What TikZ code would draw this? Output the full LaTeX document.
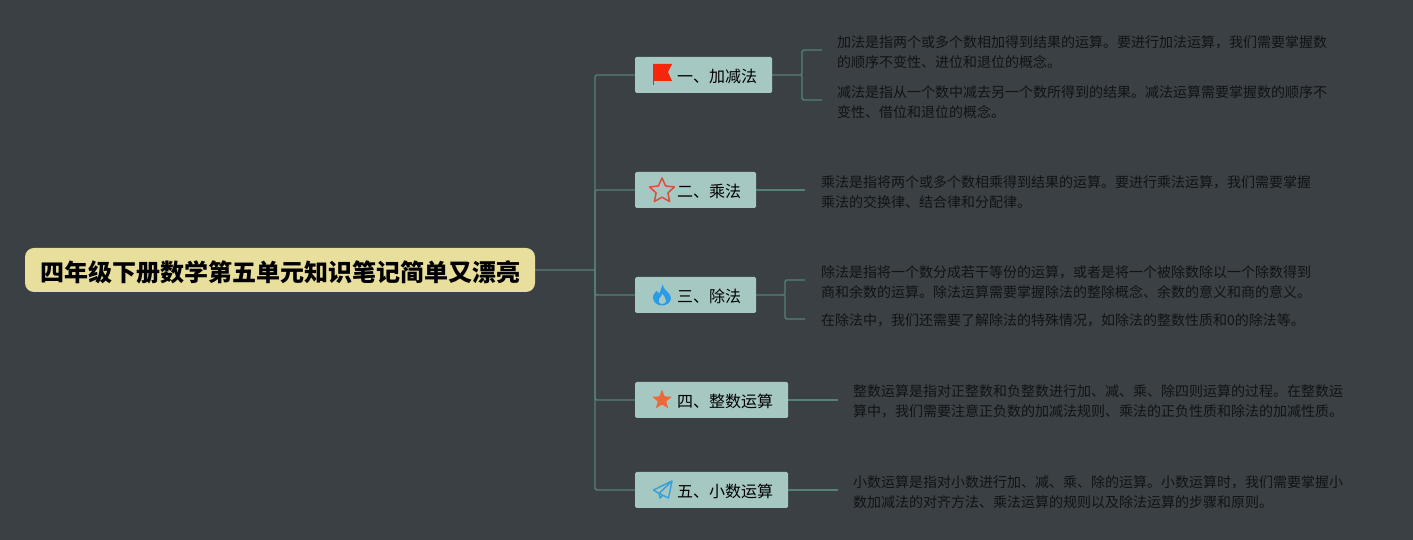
\documentclass[tikz,border=0pt]{standalone}
\usepackage{fontspec}
\setmainfont{Noto Sans CJK SC}
\usepackage{xcolor}
\usetikzlibrary{positioning}
\definecolor{boardbg}{HTML}{3A4044}
\definecolor{rootfill}{HTML}{E8DF9C}
\definecolor{topicfill}{HTML}{A6C8C2}
\definecolor{linkcol}{HTML}{558277}
\definecolor{leafink}{HTML}{111315}
\definecolor{flagred}{HTML}{F5260C}
\definecolor{starred}{HTML}{D9503A}
\definecolor{flameblue}{HTML}{2A9BE8}
\definecolor{starorange}{HTML}{EC6A37}
\definecolor{planeblue}{HTML}{35A0D8}
\newcommand{\leaflift}{\rule{0pt}{15.5pt}}
\tikzset{
  flagicon/.pic={
    \fill[flagred] (-9,11) -- (10,11) -- (6,3) -- (10,-6) -- (-9,-6) -- cycle;
    \draw[flagred, line width=1pt] (-9,11) -- (-9,-10);
  },
  ringstar/.pic={
    \draw[starred, line width=1.5pt, line join=round, yshift=-1pt]
      (90:13) -- (126:6.2) -- (162:13) -- (198:6.2) -- (234:13) -- (270:6.2)
      -- (306:13) -- (342:6.2) -- (18:13) -- (54:6.2) -- cycle;
  },
  flameicon/.pic={
    \fill[flameblue] (0.5,10.5) .. controls (1,5) and (9,2) .. (9,-3)
      .. controls (9,-8) and (4,-10.5) .. (0,-10.5)
      .. controls (-5,-10.5) and (-9,-7) .. (-9,-2.5)
      .. controls (-9,1) and (-6,3) .. (-5.5,4)
      .. controls (-4,3) and (-3,2) .. (-3,1)
      .. controls (-2,4) and (0,7) .. (0.5,10.5) -- cycle;
    \fill[topicfill] (0.5,-9) .. controls (-3,-9) and (-4,-6) .. (-3,-4)
      .. controls (-2,-2) and (0,-1) .. (0.5,1)
      .. controls (1.5,-1) and (4,-3) .. (4,-5.5)
      .. controls (4,-7.5) and (2.5,-9) .. (0.5,-9) -- cycle;
  },
  solidstar/.pic={
    \fill[starorange, rounded corners=0.8pt]
      (90:10.5) -- (126:4.4) -- (162:10.5) -- (198:4.4) -- (234:10.5) -- (270:4.4)
      -- (306:10.5) -- (342:4.4) -- (18:10.5) -- (54:4.4) -- cycle;
  },
  planeicon/.pic={
    \draw[planeblue, line width=1.4pt, line join=round]
      (10,9) -- (-8.5,0) -- (-3,-3.5) -- (10,9) -- (6.5,-8) -- (-3,-3.5) -- (-2,-8) -- (1,-5.3);
  },
}
\begin{document}
\begin{tikzpicture}[
  x=1pt, y=1pt,
  rootbox/.style={rectangle, fill=rootfill, rounded corners=9pt, outer sep=0pt,
                  minimum width=510pt, minimum height=44pt, inner sep=0pt,
                  text height=22.2pt, text depth=0pt,
                  text=black, font=\fontsize{24pt}{28pt}\selectfont\bfseries},
  topic/.style={rectangle, fill=topicfill, rounded corners=1.5pt, outer sep=0pt,
                minimum height=36pt, inner xsep=15pt, inner ysep=0pt, text=black,
                text height=14.2pt, text depth=0pt,
                execute at begin node={\hspace*{27pt}},
                font=\fontsize{16pt}{20pt}\selectfont},
  leaf/.style={rectangle, anchor=west, align=left, inner ysep=0pt, outer sep=0pt,
               inner xsep=0pt, text=leafink,
               font=\fontsize{14pt}{20pt}\selectfont},
  link/.style={draw=linkcol, line width=1.4pt, rounded corners=1.5pt},
]
\fill[boardbg] (0,0) rectangle (1413,540);

\node[rootbox] (root) at (280,270) {四年级下册数学第五单元知识笔记简单又漂亮};
\coordinate[right=60pt of root] (trunk);

\node[topic, below right=7pt and 100pt of root.east] (divi) {三、除法};
\node[topic, above right=69pt and 0pt of divi.north west] (mult) {二、乘法};
\node[topic, above right=79pt and 0pt of mult.north west] (adds) {一、加减法};
\node[topic, below right=69pt and 0pt of divi.south west] (intg) {四、整数运算};
\node[topic, below right=54pt and 0pt of intg.south west] (deci) {五、小数运算};

\pic at ([xshift=27pt]adds.west) {flagicon};
\pic at ([xshift=27pt]mult.west) {ringstar};
\pic at ([xshift=27pt]divi.west) {flameicon};
\pic at ([xshift=27pt]intg.west) {solidstar};
\pic at ([xshift=27pt]deci.west) {planeicon};

\coordinate[right=30pt of adds] (addsfork);
\coordinate[right=29pt of divi] (divifork);

\node[leaf, above right=25pt and 20pt of addsfork, anchor=west, inner xsep=15pt] (addsa)
  {\leaflift 加法是指两个或多个数相加得到结果的运算。要进行加法运算，我们需要掌握数\\的顺序不变性、进位和退位的概念。};
\node[leaf, below right=25pt and 20pt of addsfork, anchor=west, inner xsep=15pt] (addsb)
  {\leaflift 减法是指从一个数中减去另一个数所得到的结果。减法运算需要掌握数的顺序不\\变性、借位和退位的概念。};
\node[leaf, right=49pt of mult, inner xsep=16pt] (multa)
  {\leaflift 乘法是指将两个或多个数相乘得到结果的运算。要进行乘法运算，我们需要掌握\\乘法的交换律、结合律和分配律。};
\node[leaf, above right=15pt and 20pt of divifork, anchor=west, inner xsep=16pt] (divia)
  {\leaflift 除法是指将一个数分成若干等份的运算，或者是将一个被除数除以一个除数得到\\商和余数的运算。除法运算需要掌握除法的整除概念、余数的意义和商的意义。};
\node[leaf, below right=24pt and 20pt of divifork, anchor=west, inner xsep=16pt] (divib)
  {\leaflift 在除法中，我们还需要了解除法的特殊情况，如除法的整数性质和0的除法等。};
\node[leaf, right=50pt of intg, inner xsep=15pt] (intga)
  {\leaflift 整数运算是指对正整数和负整数进行加、减、乘、除四则运算的过程。在整数运\\算中，我们需要注意正负数的加减法规则、乘法的正负性质和除法的加减性质。};
\node[leaf, right=50pt of deci, inner xsep=15pt] (decia)
  {\leaflift 小数运算是指对小数进行加、减、乘、除的运算。小数运算时，我们需要掌握小\\数加减法的对齐方法、乘法运算的规则以及除法运算的步骤和原则。};

\draw[link] (root.east) -- (trunk) |- (adds.west);
\draw[link] (trunk) |- (mult.west);
\draw[link] (trunk) |- (divi.west);
\draw[link] (trunk) |- (intg.west);
\draw[link] (trunk) |- (deci.west);
\draw[link] (adds.east) -- (addsfork) |- (addsa.west);
\draw[link] (addsfork) |- (addsb.west);
\draw[link] (mult.east) -- (multa.west);
\draw[link] (divi.east) -- (divifork) |- (divia.west);
\draw[link] (divifork) |- (divib.west);
\draw[link] (intg.east) -- (intga.west);
\draw[link] (deci.east) -- (decia.west);
\end{tikzpicture}
\end{document}
